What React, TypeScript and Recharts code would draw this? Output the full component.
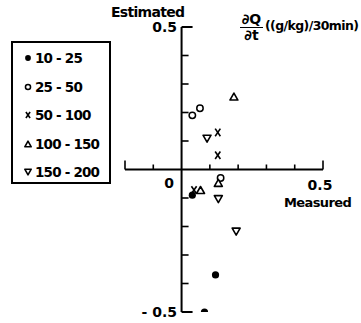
import React from "react";
import {
  ScatterChart,
  Scatter,
  XAxis,
  YAxis,
  ReferenceLine,
} from "recharts";

// legend classes
const groups = ["10 - 25", "25 - 50", "50 - 100", "100 - 150", "150 - 200"];
const kinds = ["dot", "circle", "cross", "up", "down"];

// measured (x) / estimated (y) per group
const x10 = [0.038, 0.12, 0.081];
const y10 = [-0.09, -0.37, -0.5];
const x25 = [0.038, 0.065, 0.138];
const y25 = [0.19, 0.215, -0.03];
const x50 = [0.128, 0.128, 0.044];
const y50 = [0.13, 0.05, -0.072];
const x100 = [0.185, 0.067, 0.13];
const y100 = [0.256, -0.072, -0.047];
const x150 = [0.09, 0.13, 0.193];
const y150 = [0.108, -0.104, -0.218];

const xsAll = [x10, x25, x50, x100, x150];
const ysAll = [y10, y25, y50, y100, y150];

const xTicks = [-0.2, -0.1, 0.1, 0.2, 0.3, 0.4, 0.5];
const yTicks = [-0.5, -0.4, -0.3, -0.2, -0.1, 0.1, 0.2, 0.3, 0.4, 0.5];

const W = 361;
const H = 323;
const M = { top: 27, right: 38, bottom: 11, left: 125 };
const X_DOM = [-0.2, 0.5];
const Y_DOM = [-0.5, 0.5];

const FONT = "'DejaVu Sans', sans-serif";

// same linear mapping the chart uses, for the small tick marks on the crossing axes
const px = (v: number) => M.left + ((v - X_DOM[0]) / (X_DOM[1] - X_DOM[0])) * (W - M.left - M.right);
const py = (v: number) => M.top + ((Y_DOM[1] - v) / (Y_DOM[1] - Y_DOM[0])) * (H - M.top - M.bottom);

function Marker({ kind, cx, cy, s = 1 }: { kind: string; cx: number; cy: number; s?: number }) {
  if (kind === "dot") return <circle cx={cx} cy={cy} r={3.6 * s} fill="#000" />;
  if (kind === "circle")
    return <circle cx={cx} cy={cy} r={3.2 * s} fill="#fff" stroke="#000" strokeWidth={1.5} />;
  if (kind === "cross") {
    const w = 2.6 * s;
    const h = 3.8 * s;
    return (
      <g stroke="#000" strokeWidth={1.6}>
        <line x1={cx - w} y1={cy - h} x2={cx + w} y2={cy + h} />
        <line x1={cx + w} y1={cy - h} x2={cx - w} y2={cy + h} />
      </g>
    );
  }
  const w = 4 * s;
  const h = 3.5 * s;
  const pts =
    kind === "up"
      ? `${cx},${cy - h} ${cx + w},${cy + h} ${cx - w},${cy + h}`
      : `${cx},${cy + h} ${cx + w},${cy - h} ${cx - w},${cy - h}`;
  return <polygon points={pts} fill="#fff" stroke="#000" strokeWidth={1.6} strokeLinejoin="round" />;
}

const isEnd = (t: number, arr: number[]) => t === arr[0] || t === arr[arr.length - 1];

export default function App() {
  const series = groups.map((g, i) => ({
    name: g,
    kind: kinds[i],
    data: xsAll[i].map((x, j) => ({ x, y: ysAll[i][j] })),
  }));

  const txt = { position: "absolute" as const, fontSize: 14, fontWeight: 700, lineHeight: "16px", whiteSpace: "nowrap" as const };
  const x0 = px(0);
  const y0 = py(0);

  return (
    <div style={{ position: "absolute", left: 0, top: 0, width: W, height: H, background: "#fff", fontFamily: FONT, color: "#000" }}>
      <ScatterChart width={W} height={H} margin={M}>
        <XAxis type="number" dataKey="x" domain={X_DOM} hide allowDataOverflow />
        <YAxis type="number" dataKey="y" domain={Y_DOM} hide allowDataOverflow />

        {/* axes crossing at the origin */}
        <ReferenceLine segment={[{ x: X_DOM[0], y: 0 }, { x: X_DOM[1], y: 0 }]} stroke="#000" strokeWidth={2} ifOverflow="visible" />
        <ReferenceLine segment={[{ x: 0, y: Y_DOM[0] }, { x: 0, y: Y_DOM[1] }]} stroke="#000" strokeWidth={2} ifOverflow="visible" />

        {series.map((s) => (
          <Scatter
            key={s.name}
            name={s.name}
            data={s.data}
            isAnimationActive={false}
            shape={(p: any) => <Marker kind={s.kind} cx={p.cx} cy={p.cy} />}
          />
        ))}
      </ScatterChart>

      {/* tick marks: up from the x axis, right from the y axis */}
      <svg width={W} height={H} style={{ position: "absolute", left: 0, top: 0, pointerEvents: "none" }}>
        {xTicks.map((t) => (
          <line key={"xt" + t} x1={px(t)} x2={px(t)} y1={y0} y2={y0 - (isEnd(t, xTicks) ? 9 : 5)} stroke="#000" strokeWidth={1.6} />
        ))}
        {yTicks.map((t) => (
          <line key={"yt" + t} x1={x0} x2={x0 + (isEnd(t, yTicks) ? 11 : 7)} y1={py(t)} y2={py(t)} stroke="#000" strokeWidth={isEnd(t, yTicks) ? 2 : 1.6} />
        ))}
      </svg>

      {/* tick labels */}
      <div style={{ ...txt, left: 160, top: 175, width: 18, textAlign: "center" }}>0</div>
      <div style={{ ...txt, left: 300, top: 177, width: 40, textAlign: "center" }}>0.5</div>
      <div style={{ ...txt, left: 137, top: 19, width: 40, textAlign: "right" }}>0.5</div>
      <div style={{ ...txt, left: 130, top: 304, width: 47, textAlign: "right" }}>- 0.5</div>

      <div style={{ ...txt, left: 111, top: 5, lineHeight: "15px", letterSpacing: -0.7 }}>Estimated</div>
      <div style={{ ...txt, left: 284, top: 195, fontSize: 13, letterSpacing: -0.6 }}>Measured</div>

      <div style={{ position: "absolute", left: 240, top: 12, fontSize: 14, fontWeight: 700, lineHeight: "14px", textAlign: "center", width: 23 }}>
        <div style={{ borderBottom: "1.5px solid #000", paddingBottom: 1 }}>∂Q</div>
        <div>∂t</div>
      </div>
      <div style={{ ...txt, left: 265, top: 19, fontSize: 12.5, lineHeight: "13px", letterSpacing: -0.6 }}>
        ((g/kg)/30min)
      </div>

      <div style={{ position: "absolute", left: 11, top: 41, width: 100, height: 143, border: "2px solid #000", boxSizing: "border-box" }}>
        {series.map((s, i) => (
          <div key={s.name} style={{ position: "absolute", left: 0, top: 5 + i * 28.5, height: 20, display: "flex", alignItems: "center" }}>
            <svg width={22} height={20} style={{ display: "block" }}>
              <Marker kind={s.kind} cx={15} cy={10} s={0.8} />
            </svg>
            <span style={{ fontSize: 13.5, fontWeight: 700, letterSpacing: -0.8, whiteSpace: "pre" }}>{s.name}</span>
          </div>
        ))}
      </div>
    </div>
  );
}
